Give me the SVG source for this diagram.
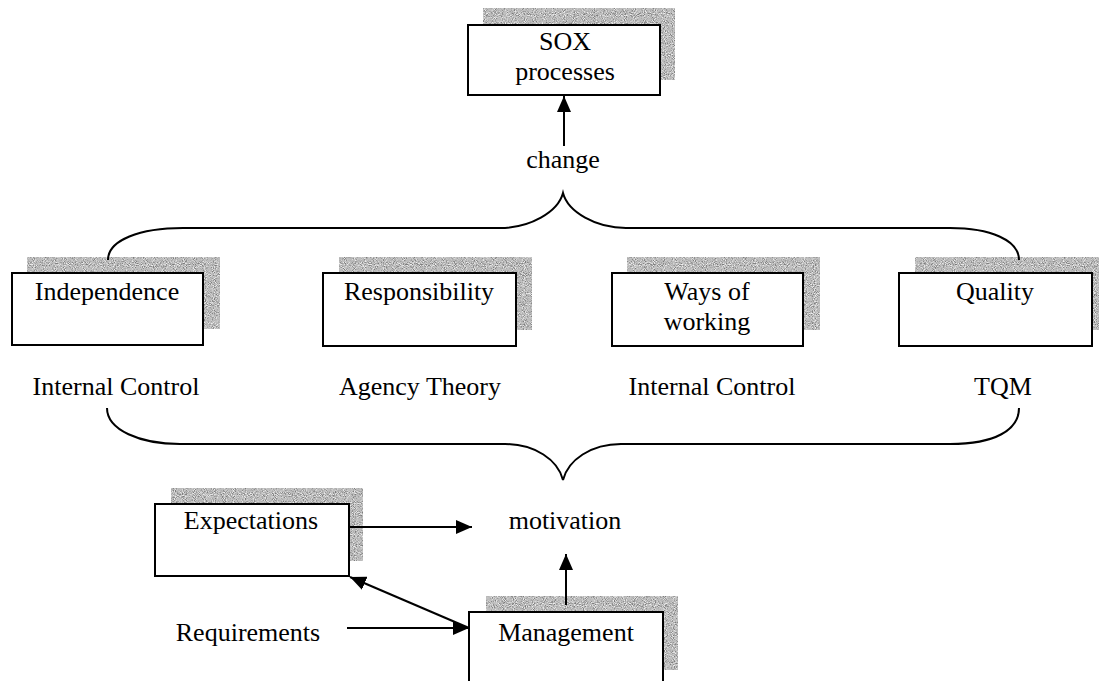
<svg xmlns="http://www.w3.org/2000/svg" width="1099" height="681" viewBox="0 0 1099 681">
  <style>
    .box { fill: #ffffff; stroke: #000000; stroke-width: 2; }
    .shadow { fill: #bdbdbd; filter: url(#grain); }
    .lbl { font-family: "Liberation Serif", "Times New Roman", serif; font-size: 26px; fill: #000000; text-anchor: middle; }
    .wire { fill: none; stroke: #000000; stroke-width: 2; }
  </style>
  <defs>
    <!-- speckled grey fill used for the drop shadows -->
    <filter id="grain" x="0" y="0" width="100%" height="100%" color-interpolation-filters="sRGB">
      <feTurbulence type="fractalNoise" baseFrequency="1.1" numOctaves="1" seed="7" result="noise"/>
      <feColorMatrix in="noise" type="matrix" values="0 0 0 0 0  0 0 0 0 0  0 0 0 0 0  5 0 0 0 -2.6" result="darkMask"/>
      <feColorMatrix in="noise" type="matrix" values="0 0 0 0 0  0 0 0 0 0  0 0 0 0 0  -5 0 0 0 2.35" result="lightMask"/>
      <feFlood flood-color="#7c7c7c" result="dark"/>
      <feComposite in="dark" in2="darkMask" operator="in" result="darkSpecks"/>
      <feFlood flood-color="#eeeeee" result="white"/>
      <feComposite in="white" in2="lightMask" operator="in" result="lightSpecks"/>
      <feFlood flood-color="#bdbdbd" result="base"/>
      <feMerge result="mix">
        <feMergeNode in="base"/>
        <feMergeNode in="lightSpecks"/>
        <feMergeNode in="darkSpecks"/>
      </feMerge>
      <feComposite in="mix" in2="SourceGraphic" operator="in"/>
    </filter>
    <marker id="arrow" viewBox="0 0 16 14" refX="16" refY="7" markerWidth="16" markerHeight="14" markerUnits="userSpaceOnUse" orient="auto">
      <path d="M0,0 L16,7 L0,14 Z" fill="#000000"/>
    </marker>
  </defs>

  <g id="sox">
    <rect class="shadow" x="483" y="8" width="192" height="72"/>
    <rect class="box" x="468" y="25" width="192" height="70"/>
    <text class="lbl" x="565" y="50">SOX</text>
    <text class="lbl" x="565" y="80">processes</text>
  </g>

  <text id="change" class="lbl" x="563" y="168">change</text>

  <g id="independence">
    <rect class="shadow" x="27" y="257" width="193" height="72"/>
    <rect class="box" x="12" y="273" width="191" height="72"/>
    <text class="lbl" x="107" y="300">Independence</text>
  </g>

  <g id="responsibility">
    <rect class="shadow" x="339" y="257" width="193" height="73"/>
    <rect class="box" x="323" y="273" width="193" height="73"/>
    <text class="lbl" x="419" y="300">Responsibility</text>
  </g>

  <g id="ways">
    <rect class="shadow" x="627" y="257" width="193" height="73"/>
    <rect class="box" x="612" y="273" width="191" height="73"/>
    <text class="lbl" x="707" y="300">Ways of</text>
    <text class="lbl" x="707" y="330">working</text>
  </g>

  <g id="quality">
    <rect class="shadow" x="915" y="257" width="184" height="73"/>
    <rect class="box" x="899" y="273" width="193" height="73"/>
    <text class="lbl" x="995" y="300">Quality</text>
  </g>

  <g id="theories">
    <text class="lbl" x="116" y="395">Internal Control</text>
    <text class="lbl" x="420" y="395">Agency Theory</text>
    <text class="lbl" x="712" y="395">Internal Control</text>
    <text class="lbl" x="1003" y="395">TQM</text>
  </g>

  <g id="expectations">
    <rect class="shadow" x="171" y="488" width="192" height="73"/>
    <rect class="box" x="155" y="504" width="194" height="72"/>
    <text class="lbl" x="251" y="529">Expectations</text>
  </g>

  <text id="motivation" class="lbl" x="565" y="529">motivation</text>

  <text id="requirements" class="lbl" x="248" y="641">Requirements</text>

  <g id="management">
    <rect class="shadow" x="486" y="596" width="192" height="74"/>
    <rect class="box" x="469" y="612" width="194" height="74"/>
    <text class="lbl" x="566" y="641">Management</text>
  </g>

  <!-- connectors and braces, drawn over the shadows -->
  <g id="connectors">
    <path class="wire" d="M108,260 C108,240 140,228 183,228 L500,228 C530,228 558,212 563,193 C568,212 596,228 626,228 L950,228 C990,228 1019,240 1019,260"/>
    <path class="wire" d="M107,408 C107,430 140,444 180,444 L505,444 C535,444 558,460 563,480 C568,460 591,444 621,444 L950,444 C995,444 1019,430 1019,408"/>
    <line class="wire" x1="564" y1="146" x2="564" y2="96" marker-end="url(#arrow)"/>
    <line class="wire" x1="349" y1="527" x2="472" y2="527" marker-end="url(#arrow)"/>
    <line class="wire" x1="566" y1="605" x2="566" y2="554" marker-end="url(#arrow)"/>
    <line class="wire" x1="347" y1="628" x2="469" y2="628" marker-end="url(#arrow)"/>
    <line class="wire" x1="469" y1="628" x2="350" y2="577" marker-end="url(#arrow)"/>
  </g>
</svg>
